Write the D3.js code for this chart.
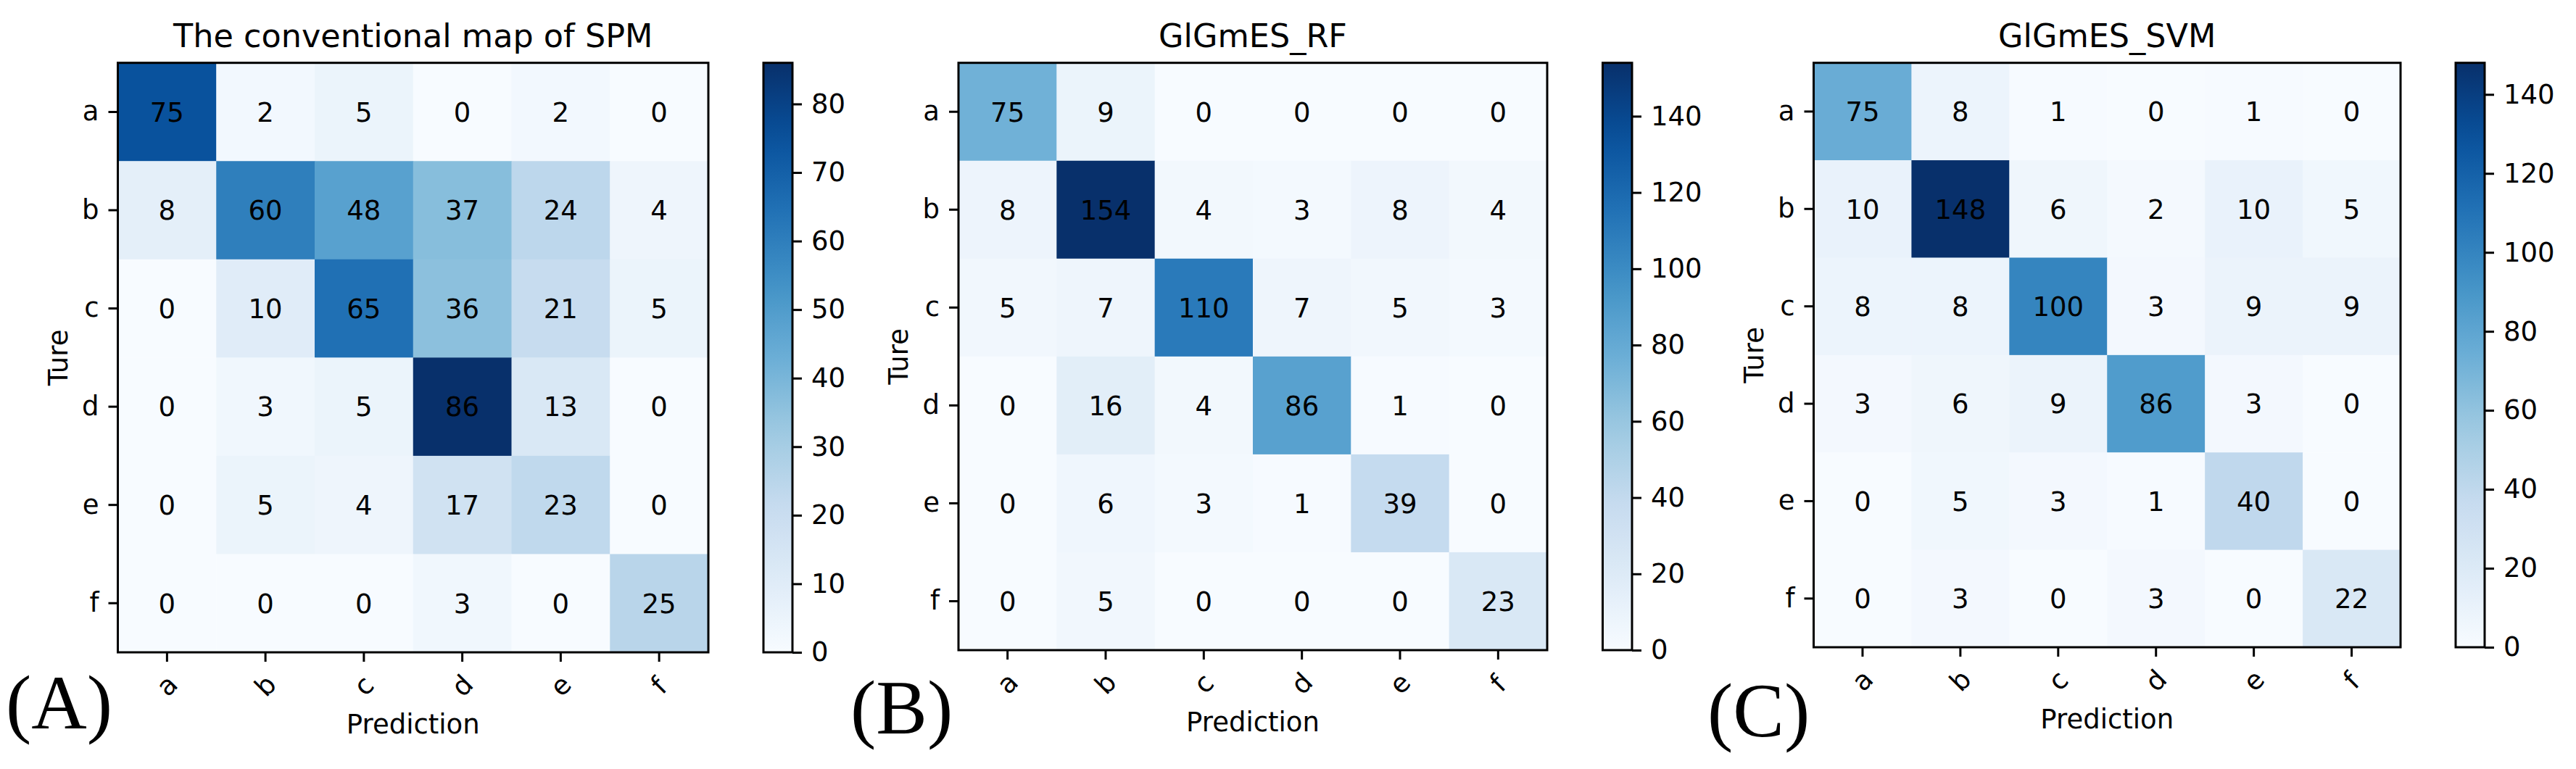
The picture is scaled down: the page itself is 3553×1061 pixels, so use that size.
<!DOCTYPE html>
<html>
<head>
<meta charset="utf-8">
<script src="https://cdn.jsdelivr.net/npm/d3@7/dist/d3.min.js"></script>
<style>
  html, body { margin: 0; padding: 0; background: #fff; }
  svg { display: block; }
  text { font-family: "DejaVu Sans", sans-serif; fill: #000; }
</style>
</head>
<body>
<svg id="chart" width="3553" height="1061"></svg>
<script>
// ---------------- data ----------------
const CATEGORIES = ['a', 'b', 'c', 'd', 'e', 'f'];

const VALUES_SPM = [
  [75, 2, 5, 0, 2, 0],
  [8, 60, 48, 37, 24, 4],
  [0, 10, 65, 36, 21, 5],
  [0, 3, 5, 86, 13, 0],
  [0, 5, 4, 17, 23, 0],
  [0, 0, 0, 3, 0, 25]
];
const VALUES_RF = [
  [75, 9, 0, 0, 0, 0],
  [8, 154, 4, 3, 8, 4],
  [5, 7, 110, 7, 5, 3],
  [0, 16, 4, 86, 1, 0],
  [0, 6, 3, 1, 39, 0],
  [0, 5, 0, 0, 0, 23]
];
const VALUES_SVM = [
  [75, 8, 1, 0, 1, 0],
  [10, 148, 6, 2, 10, 5],
  [8, 8, 100, 3, 9, 9],
  [3, 6, 9, 86, 3, 0],
  [0, 5, 3, 1, 40, 0],
  [0, 3, 0, 3, 0, 22]
];

const TITLES = ['The conventional map of SPM', 'GlGmES_RF', 'GlGmES_SVM'];
const PANEL_LABELS = ['(A)', '(B)', '(C)'];
const CB_TICKS_SPM = [0, 10, 20, 30, 40, 50, 60, 70, 80];
const CB_TICKS_RF = [0, 20, 40, 60, 80, 100, 120, 140];
const CB_TICKS_SVM = [0, 20, 40, 60, 80, 100, 120, 140];
const X_LABEL = 'Prediction';
const Y_LABEL = 'Ture';

// matplotlib "Blues" colormap anchor colours
const BLUES = ['#f7fbff', '#deebf7', '#c6dbef', '#9ecae1', '#6baed6', '#4292c6', '#2171b5', '#08519c', '#08306b'];

// ---------------- layout ----------------
const FS = 37;        // base font size
const TITLE_FS = 44.5;
const TICK = 13, PAD = 13, LW = 3;

const panels = [
  { values: VALUES_SPM, title: TITLES[0], label: PANEL_LABELS[0], cbTicks: CB_TICKS_SPM,
    x0: 162.5, x1: 977, y0: 86.7, y1: 900, cb0: 1053, cb1: 1093, lx: 8, ly: 1005 },
  { values: VALUES_RF, title: TITLES[1], label: PANEL_LABELS[1], cbTicks: CB_TICKS_RF,
    x0: 1322, x1: 2134, y0: 86.7, y1: 897, cb0: 2210.5, cb1: 2251, lx: 1173, ly: 1012 },
  { values: VALUES_SVM, title: TITLES[2], label: PANEL_LABELS[2], cbTicks: CB_TICKS_SVM,
    x0: 2501.5, x1: 3311, y0: 86.7, y1: 893, cb0: 3387, cb1: 3427, lx: 2355, ly: 1016 }
];

const svg = d3.select('#chart');
const defs = svg.append('defs');

function makeCmap(vmax) {
  const dom = BLUES.map((_, i) => vmax * i / (BLUES.length - 1));
  return d3.scaleLinear().domain(dom).range(BLUES).interpolate(d3.interpolateRgb).clamp(true);
}

panels.forEach((p, pi) => {
  const flat = p.values.flat();
  const vmax = d3.max(flat);
  const vmin = d3.min(flat);
  const cmap = makeCmap(vmax);

  const x = d3.scaleBand().domain(CATEGORIES).range([p.x0, p.x1]).padding(0);
  const y = d3.scaleBand().domain(CATEGORIES).range([p.y0, p.y1]).padding(0);

  const g = svg.append('g');

  // cells
  const cells = [];
  p.values.forEach((row, ri) => row.forEach((v, ci) => cells.push({ r: CATEGORIES[ri], c: CATEGORIES[ci], v })));
  g.selectAll('rect.cell').data(cells).enter().append('rect')
    .attr('class', 'cell')
    .attr('x', d => x(d.c))
    .attr('y', d => y(d.r))
    .attr('width', x.bandwidth() + 0.5)
    .attr('height', y.bandwidth() + 0.5)
    .attr('fill', d => cmap(d.v));

  g.selectAll('text.val').data(cells).enter().append('text')
    .attr('class', 'val')
    .attr('x', d => x(d.c) + x.bandwidth() / 2)
    .attr('y', d => y(d.r) + y.bandwidth() / 2)
    .attr('text-anchor', 'middle')
    .attr('dy', '0.36em')
    .style('font-size', FS + 'px')
    .text(d => d.v);

  // spines
  g.append('rect')
    .attr('x', p.x0).attr('y', p.y0)
    .attr('width', p.x1 - p.x0).attr('height', p.y1 - p.y0)
    .attr('fill', 'none').attr('stroke', '#000').attr('stroke-width', LW);

  // y axis
  const ya = g.append('g').attr('transform', `translate(${p.x0},0)`)
    .call(d3.axisLeft(y).tickSize(TICK).tickPadding(PAD));
  ya.select('.domain').remove();
  ya.selectAll('line').attr('stroke', '#000').attr('stroke-width', LW);
  ya.selectAll('text').style('font-size', FS + 'px').style('font-family', '"DejaVu Sans", sans-serif').attr('fill', '#000');

  // x axis
  const xa = g.append('g').attr('transform', `translate(0,${p.y1})`)
    .call(d3.axisBottom(x).tickSize(TICK).tickPadding(PAD));
  xa.select('.domain').remove();
  xa.selectAll('line').attr('stroke', '#000').attr('stroke-width', LW);
  xa.selectAll('text')
    .style('font-size', FS + 'px').style('font-family', '"DejaVu Sans", sans-serif').attr('fill', '#000')
    .attr('y', 0).attr('dy', null)
    .attr('dominant-baseline', 'central')
    .attr('text-anchor', 'middle')
    .attr('transform', 'translate(0,46) rotate(-45)');

  // title
  g.append('text')
    .attr('x', (p.x0 + p.x1) / 2).attr('y', p.y0 - 22)
    .attr('text-anchor', 'middle')
    .style('font-size', TITLE_FS + 'px')
    .text(p.title);

  // axis labels
  g.append('text')
    .attr('x', (p.x0 + p.x1) / 2).attr('y', p.y1 + 112)
    .attr('text-anchor', 'middle')
    .style('font-size', FS + 'px')
    .text(X_LABEL);

  g.append('text')
    .attr('transform', `translate(${p.x0 - 70},${(p.y0 + p.y1) / 2}) rotate(-90)`)
    .attr('text-anchor', 'middle')
    .style('font-size', FS + 'px')
    .text(Y_LABEL);

  // colorbar
  const gid = 'cbgrad' + pi;
  const grad = defs.append('linearGradient').attr('id', gid)
    .attr('x1', 0).attr('y1', 1).attr('x2', 0).attr('y2', 0);
  d3.range(0, 1.0001, 0.05).forEach(t => {
    grad.append('stop').attr('offset', t).attr('stop-color', cmap(vmin + t * (vmax - vmin)));
  });
  const cy = d3.scaleLinear().domain([vmin, vmax]).range([p.y1, p.y0]);
  g.append('rect')
    .attr('x', p.cb0).attr('y', p.y0)
    .attr('width', p.cb1 - p.cb0).attr('height', p.y1 - p.y0)
    .attr('fill', `url(#${gid})`)
    .attr('stroke', '#000').attr('stroke-width', LW);
  const ca = g.append('g').attr('transform', `translate(${p.cb1},0)`)
    .call(d3.axisRight(cy).tickValues(p.cbTicks).tickSize(TICK).tickPadding(PAD).tickFormat(d3.format('d')));
  ca.select('.domain').remove();
  ca.selectAll('line').attr('stroke', '#000').attr('stroke-width', LW);
  ca.selectAll('text').style('font-size', FS + 'px').style('font-family', '"DejaVu Sans", sans-serif').attr('fill', '#000');

  // panel label
  svg.append('text')
    .attr('x', p.lx).attr('y', p.ly)
    .style('font-family', '"Liberation Serif", "Times New Roman", serif')
    .style('font-size', '106px')
    .text(p.label);
});
</script>
</body>
</html>
